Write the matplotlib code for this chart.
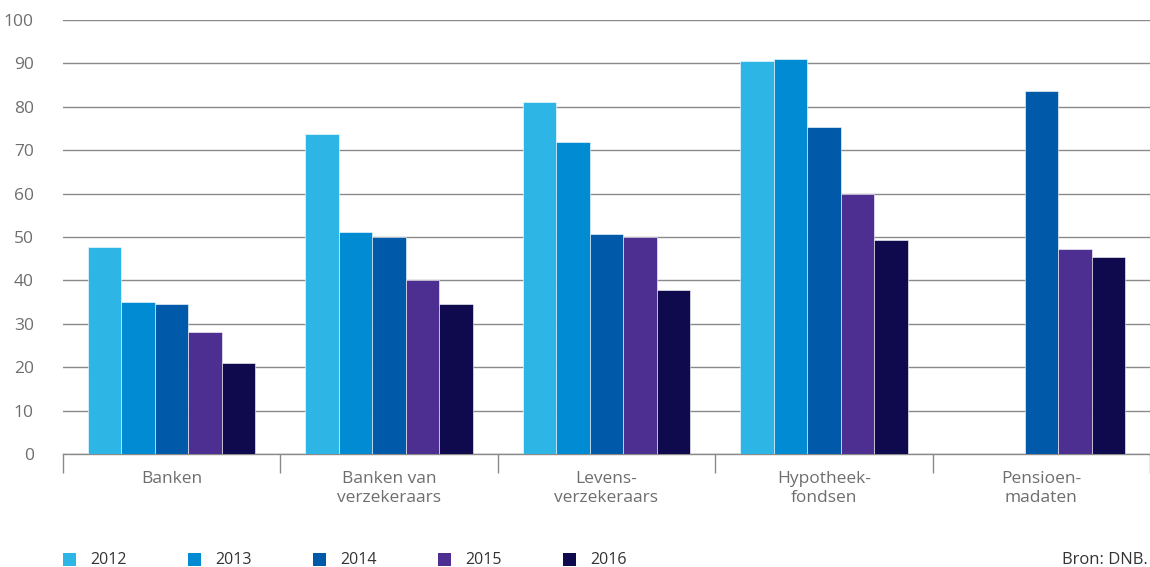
import matplotlib
matplotlib.use('Agg')
import matplotlib.pyplot as plt
from matplotlib.patches import Rectangle
import numpy as np

plt.rcParams['font.family'] = ['Open Sans', 'DejaVu Sans']

# categories and yearly values
categories = ['Banken', 'Banken van\nverzekeraars', 'Levens-\nverzekeraars',
              'Hypotheek-\nfondsen', 'Pensioen-\nmadaten']
years = ['2012', '2013', '2014', '2015', '2016']
v2012 = [47.7, 73.8, 81.2, 90.6, np.nan]
v2013 = [35.0, 51.2, 71.8, 91.1, np.nan]
v2014 = [34.5, 50.0, 50.7, 75.3, 83.7]
v2015 = [28.1, 40.1, 49.9, 60.0, 47.3]
v2016 = [20.9, 34.6, 37.9, 49.4, 45.3]
series = [v2012, v2013, v2014, v2015, v2016]
colors = ['#2cb5e5', '#008bd2', '#005aa9', '#4c2f91', '#0e0a4d']

W, H = 1150, 567
fig = plt.figure(figsize=(W / 100, H / 100), dpi=100)
ax = fig.add_axes([63 / W, 1 - 454 / H, (1150 - 63) / W, (454 - 20) / H])

grey = '#6e6e6e'
x = np.arange(len(categories))
bw = 0.154
for i, (vals, c) in enumerate(zip(series, colors)):
    ax.bar(x + (i - 2) * bw, vals, width=bw, color=c, edgecolor='white',
           linewidth=0.4, zorder=3)

ax.set_xlim(-0.5, len(categories) - 0.5)
ax.set_ylim(0, 100)
ax.set_yticks(np.arange(0, 101, 10))
ax.yaxis.grid(True, color='#8a8a8a', linewidth=1.0, zorder=0)
ax.tick_params(axis='y', length=0, pad=21, labelsize=12.5, labelcolor=grey)

# category separators as major ticks, labels on minor ticks
ax.set_xticks(np.arange(-0.5, len(categories), 1.0))
ax.set_xticklabels([])
ax.tick_params(axis='x', which='major', length=14, width=1.0, color='#8a8a8a',
               direction='out')
ax.set_xticks(x, minor=True)
ax.set_xticklabels(categories, minor=True, fontsize=12.5, color=grey,
                   linespacing=1.3)
ax.tick_params(axis='x', which='minor', length=0, pad=12)

for s in ['top', 'right', 'left']:
    ax.spines[s].set_visible(False)
ax.spines['bottom'].set_color('#8a8a8a')
ax.spines['bottom'].set_linewidth(1.0)

# legend along the bottom
for i, (yr, c) in enumerate(zip(years, colors)):
    lx = 63 + i * 125
    fig.add_artist(Rectangle((lx / W, 1 - 566 / H), 13 / W, 13 / H,
                             transform=fig.transFigure, color=c, lw=0))
    fig.text((lx + 27) / W, 1 - 560 / H, yr, fontsize=11.5, color='#333333',
             va='center', ha='left')

fig.text(1148 / W, 1 - 560 / H, 'Bron: DNB.', fontsize=12, color='#333333',
         va='center', ha='right')

fig.savefig('out.png', dpi=100)
